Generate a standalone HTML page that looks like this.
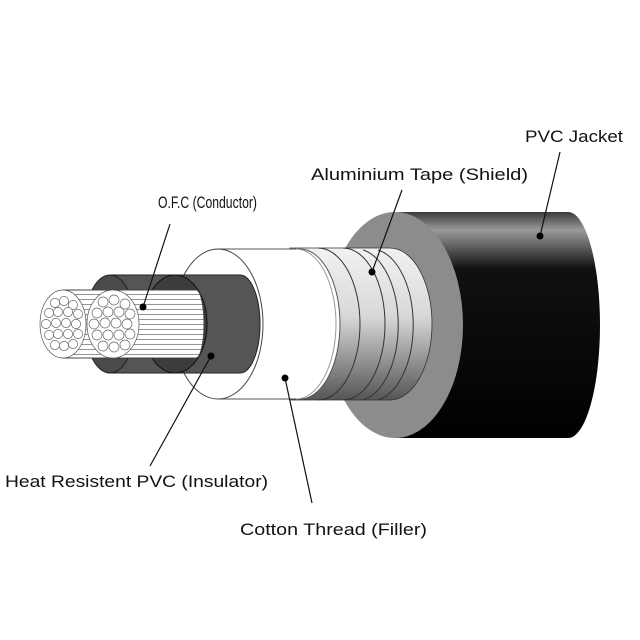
<!DOCTYPE html>
<html><head><meta charset="utf-8"><style>html,body{margin:0;padding:0;background:#fff}svg{display:block}</style></head>
<body>
<svg width="640" height="640" viewBox="0 0 640 640" xmlns="http://www.w3.org/2000/svg">
<defs>
<linearGradient id="jk" x1="0" y1="0" x2="0" y2="1">
<stop offset="0" stop-color="#3a3a3a"/><stop offset="0.08" stop-color="#9a9a9a"/><stop offset="0.25" stop-color="#111"/><stop offset="1" stop-color="#000"/>
</linearGradient>
<linearGradient id="tp" x1="0" y1="0" x2="0" y2="1">
<stop offset="0" stop-color="#f2f2f2"/><stop offset="0.45" stop-color="#d8d8d8"/><stop offset="1" stop-color="#555"/>
</linearGradient>
<pattern id="str" width="10" height="5" patternUnits="userSpaceOnUse"><rect width="10" height="5" fill="#fff"/><line x1="0" y1="4.5" x2="10" y2="4.5" stroke="#666" stroke-width="0.7"/></pattern>
</defs>
<path d="M395,212 H568 A32,113 0 0 1 568,438 H395 Z" fill="url(#jk)"/>
<ellipse cx="395" cy="325" rx="68" ry="113" fill="#8c8c8c"/>
<path d="M290,248 H390 A42,76 0 0 1 390,400 H290 Z" fill="url(#tp)" stroke="#333" stroke-width="0.8"/>
<g fill="none" stroke="#333" stroke-width="1">
<path d="M318,248 A42,76 0 0 1 318,400"/>
<path d="M343,248 A42,76 0 0 1 343,400"/>
<path d="M363,250 A42,76 0 0 1 363,400"/>
<path d="M378,250 A42,76 0 0 1 378,400"/>
</g>
<path d="M218,249 H300 A40,75 0 0 1 300,399 H218 Z" fill="#fff" stroke="#555" stroke-width="1"/>
<path d="M296,249 A40,75 0 0 1 296,399" fill="none" stroke="#999" stroke-width="1"/>
<ellipse cx="218" cy="324" rx="45" ry="75" fill="#fff" stroke="#444" stroke-width="1"/>
<path d="M110,275 H240 A20,49 0 0 1 240,373 H110 Z" fill="#555" stroke="#222" stroke-width="1"/>
<ellipse cx="110" cy="324" rx="25" ry="49" fill="#4a4a4a" stroke="#222"/>
<ellipse cx="175" cy="324" rx="32" ry="49" fill="#3c3c3c" stroke="#111"/>
<path d="M63,290 H196 A8,34 0 0 1 196,358 H63 Z" fill="url(#str)" stroke="#444"/>
<g stroke="#555" stroke-width="0.7" fill="#fff">
<ellipse cx="63" cy="324" rx="23" ry="34"/>
<ellipse cx="113" cy="324" rx="26" ry="34"/>
</g>
<g fill="#fff" stroke="#666" stroke-width="0.7">
<circle cx="55" cy="303" r="4.6"/><circle cx="64" cy="301" r="4.6"/><circle cx="73" cy="305" r="4.6"/>
<circle cx="49" cy="313" r="4.6"/><circle cx="58" cy="312" r="4.6"/><circle cx="68" cy="312" r="4.6"/><circle cx="78" cy="314" r="4.6"/>
<circle cx="46" cy="324" r="4.6"/><circle cx="56" cy="323" r="4.6"/><circle cx="66" cy="323" r="4.6"/><circle cx="76" cy="324" r="4.6"/>
<circle cx="49" cy="335" r="4.6"/><circle cx="58" cy="334" r="4.6"/><circle cx="68" cy="334" r="4.6"/><circle cx="78" cy="334" r="4.6"/>
<circle cx="55" cy="345" r="4.6"/><circle cx="64" cy="346" r="4.6"/><circle cx="73" cy="344" r="4.6"/>
<circle cx="103" cy="302" r="5"/><circle cx="114" cy="300" r="5"/><circle cx="125" cy="304" r="5"/>
<circle cx="97" cy="313" r="5"/><circle cx="108" cy="312" r="5"/><circle cx="119" cy="312" r="5"/><circle cx="130" cy="314" r="5"/>
<circle cx="94" cy="324" r="5"/><circle cx="105" cy="323" r="5"/><circle cx="116" cy="323" r="5"/><circle cx="127" cy="324" r="5"/>
<circle cx="97" cy="335" r="5"/><circle cx="108" cy="335" r="5"/><circle cx="119" cy="335" r="5"/><circle cx="130" cy="334" r="5"/>
<circle cx="103" cy="346" r="5"/><circle cx="114" cy="347" r="5"/><circle cx="125" cy="345" r="5"/>
</g>
<g stroke="#111" stroke-width="1.2" fill="none">
<line x1="560" y1="152" x2="540" y2="236"/>
<line x1="402" y1="190" x2="372" y2="272"/>
<line x1="170" y1="224" x2="143" y2="307"/>
<line x1="211" y1="356" x2="150" y2="466"/>
<line x1="285" y1="378" x2="312" y2="503"/>
</g>
<g fill="#000">
<circle cx="540" cy="236" r="3.5"/><circle cx="372" cy="272" r="3.5"/><circle cx="143" cy="307" r="3.5"/>
<circle cx="211" cy="356" r="3.5"/><circle cx="285" cy="378" r="3.5"/>
</g>
<g font-family="Liberation Sans, sans-serif" font-size="17" fill="#111">
<text x="525" y="142" textLength="98" lengthAdjust="spacingAndGlyphs">PVC Jacket</text>
<text x="311" y="180" textLength="217" lengthAdjust="spacingAndGlyphs">Aluminium Tape (Shield)</text>
<text x="158" y="208" textLength="99" lengthAdjust="spacingAndGlyphs">O.F.C (Conductor)</text>
<text x="5" y="487" textLength="263" lengthAdjust="spacingAndGlyphs">Heat Resistent PVC (Insulator)</text>
<text x="240" y="535" textLength="187" lengthAdjust="spacingAndGlyphs">Cotton Thread (Filler)</text>
</g>
</svg>
</body></html>
